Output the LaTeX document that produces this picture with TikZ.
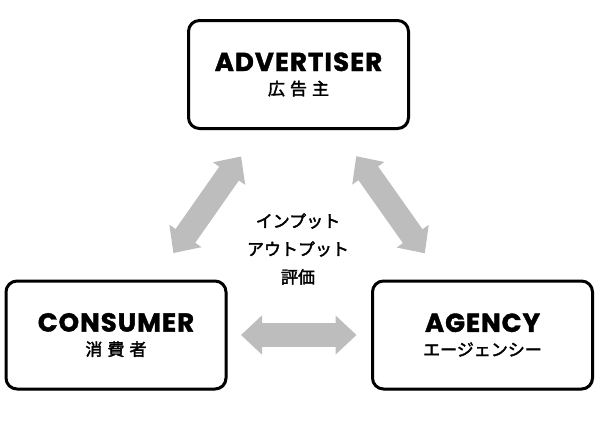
\documentclass[tikz,border=0pt]{standalone}
\usepackage{fontspec}
\setmainfont{Poppins}
\newfontfamily\headfont{Poppins}[BoldFeatures={FakeBold=1.5}, LetterSpace=4]
\newfontfamily\jpfont{Noto Sans CJK JP}[FakeBold=2.2]
\usetikzlibrary{arrows.meta, shadows, positioning}
\definecolor{arrowgray}{RGB}{189,189,189}

\newcommand\headline[1]{{\headfont\fontsize{26}{23}\selectfont\bfseries #1}}
\newcommand\jpline[1]{{\jpfont #1}}

\begin{document}
\begin{tikzpicture}[x=1pt, y=-1pt,
    party/.style={draw, line width=3pt, rounded corners=11pt,
        minimum width=220pt, minimum height=108pt, fill=white,
        align=center, font=\fontsize{17}{24}\selectfont,
        drop shadow={shadow xshift=1.5pt, shadow yshift=-1.5pt, opacity=0.25}},
    link/.style={draw=arrowgray, line width=24pt,
        {Triangle[width=38pt,length=21pt]}-{Triangle[width=38pt,length=21pt]}}
]
    \useasboundingbox (0,0) rectangle (600,424);

    % 1. Ba bên
    \node[party] (adv) at (298.5,74.5) {\headline{ADVERTISER}\\\jpline{広\hspace{5pt}告\hspace{5pt}主}};
    \node[party] (con) at (116,335) {\headline{CONSUMER}\\\jpline{消\hspace{5pt}費\hspace{5pt}者}};
    \node[party] (agc) at (482.5,335) {\headline{AGENCY}\\\jpline{エージェンシー}};

    % 2. Mũi tên hai chiều
    \draw[link, shorten <=100pt, shorten >=100pt] (adv.center) -- (con.center);
    \draw[link, shorten <=100pt, shorten >=100pt] (adv.center) -- (agc.center);
    \draw[link, shorten <=125pt, shorten >=126pt] (con.center) -- (agc.center);

    % 3. Chữ ở giữa
    \node[align=center, font=\jpfont\fontsize{17}{28}\selectfont] (flow) at (298,249)
        {インプット\\アウトプット\\評価};
\end{tikzpicture}
\end{document}
